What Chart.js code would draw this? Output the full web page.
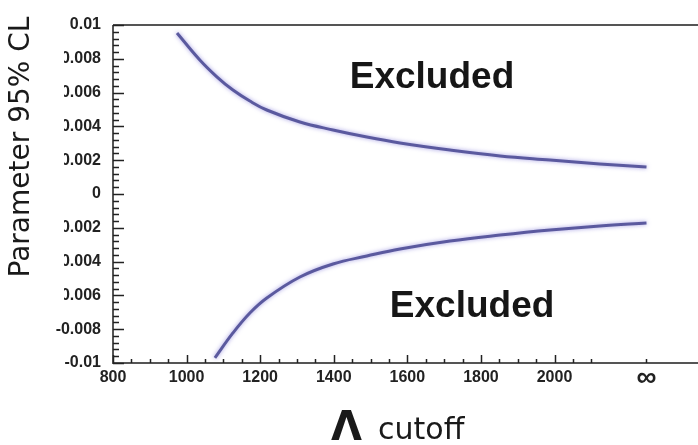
<!DOCTYPE html>
<html>
<head>
<meta charset="utf-8">
<script src="https://cdn.jsdelivr.net/npm/chart.js@4.4.1/dist/chart.umd.min.js"></script>
<style>
  html, body { margin: 0; padding: 0; background: #fff; }
  #wrap { width: 698px; height: 445px; }
</style>
</head>
<body>
<div id="wrap"><canvas id="myChart" width="698" height="445"></canvas></div>
<script>
// upper limit branch
var upperCutoff = [974, 1036, 1083, 1126, 1172, 1218, 1308, 1398, 1490, 1580, 1716, 1852, 1988, 2123, 2250];
var upperLimit = [0.00953, 0.00793, 0.00692, 0.00615, 0.00550, 0.00497, 0.00426, 0.00379, 0.00337, 0.00302, 0.00260, 0.00225, 0.00201, 0.00178, 0.00160];
// lower limit branch
var lowerCutoff = [1077, 1126, 1172, 1218, 1308, 1398, 1490, 1580, 1716, 1852, 1988, 2123, 2250];
var lowerLimit = [-0.00970, -0.00822, -0.00704, -0.00615, -0.00491, -0.00414, -0.00367, -0.00325, -0.00278, -0.00243, -0.00213, -0.00189, -0.00172];

var xTickValues = [800, 1000, 1200, 1400, 1600, 1800, 2000, 2250];
var xTickLabels = ['800', '1000', '1200', '1400', '1600', '1800', '2000', '\u221E'];
var yTickLabels = ['-0.01', '-0.008', '-0.006', '-0.004', '-0.002', '0', '0.002', '0.004', '0.006', '0.008', '0.01'];

var toPoints = function (xs, ys) {
    return xs.map(function (x, i) { return { x: x, y: ys[i] }; });
};

var lineColor = 'rgba(78, 76, 150, 0.9)';

// soft glow on the curves
var glowPlugin = {
    id: 'glow',
    beforeDatasetsDraw: function (chart) {
        chart.ctx.save();
        chart.ctx.shadowColor = 'rgba(110, 100, 210, 0.7)';
        chart.ctx.shadowBlur = 4;
    },
    afterDatasetsDraw: function (chart) {
        chart.ctx.restore();
    }
};

// frame, inner ticks, labels and titles
var framePlugin = {
    id: 'frame',
    afterDraw: function (chart) {
        var ctx = chart.ctx;
        var a = chart.chartArea;
        var xs = chart.scales.x, ys = chart.scales.y;
        ctx.save();
        ctx.strokeStyle = '#555';
        ctx.lineWidth = 2;
        ctx.beginPath();
        ctx.moveTo(a.left, a.top);
        ctx.lineTo(a.right, a.top);
        ctx.moveTo(a.left, a.top);
        ctx.lineTo(a.left, a.bottom);
        ctx.lineTo(a.right, a.bottom);
        ctx.stroke();

        ctx.lineWidth = 1.5;
        ctx.strokeStyle = '#222';
        ctx.beginPath();
        for (var i = -25; i <= 25; i++) {
            var py = Math.round(ys.getPixelForValue(i * 0.0004)) + 0.5;
            var len = (i % 5 === 0) ? 11 : 6;
            ctx.moveTo(a.left, py);
            ctx.lineTo(a.left + len, py);
        }
        for (var k = 800; k <= 2100; k += 50) {
            var px = Math.round(xs.getPixelForValue(k)) + 0.5;
            var l2 = (k % 200 === 0) ? 8 : 4;
            ctx.moveTo(px, a.bottom);
            ctx.lineTo(px, a.bottom - l2);
        }
        var pinf = Math.round(xs.getPixelForValue(xTickValues[xTickValues.length - 1])) + 0.5;
        ctx.moveTo(pinf, a.bottom);
        ctx.lineTo(pinf, a.bottom - 4);
        ctx.stroke();

        // region labels
        ctx.fillStyle = '#161616';
        ctx.font = 'bold 37px "Liberation Sans", Arial, sans-serif';
        ctx.textAlign = 'center';
        ctx.textBaseline = 'middle';
        ctx.fillText('Excluded', xs.getPixelForValue(1667), ys.getPixelForValue(0.0069));
        ctx.fillText('Excluded', xs.getPixelForValue(1776), ys.getPixelForValue(-0.0067));

        // y title on a white box
        ctx.fillStyle = '#fff';
        ctx.fillRect(0, 0, 64, 312);
        ctx.save();
        ctx.translate(22, 147);
        ctx.rotate(-Math.PI / 2);
        ctx.fillStyle = '#1a1a1a';
        ctx.font = '28px "DejaVu Sans", sans-serif';
        ctx.fillText('Parameter 95% CL', 0, 0);
        ctx.restore();

        // x title
        ctx.fillStyle = '#1a1a1a';
        ctx.textAlign = 'left';
        ctx.textBaseline = 'alphabetic';
        ctx.font = 'bold 40px "DejaVu Sans", sans-serif';
        ctx.fillText('\u039B', 331, 440);
        ctx.font = '30px "DejaVu Sans", sans-serif';
        ctx.fillText('cutoff', 378, 439);
        ctx.restore();
    }
};

var tickFont = { family: '"Liberation Sans", Arial, sans-serif', size: 16, weight: 'bold' };
var infFont = { family: '"Liberation Sans", Arial, sans-serif', size: 28, weight: 'bold', lineHeight: 0.75 };

var config = {
    type: 'scatter',
    data: {
        datasets: [{
            label: 'upper',
            data: toPoints(upperCutoff, upperLimit),
            showLine: true,
            borderColor: lineColor,
            borderWidth: 3,
            pointRadius: 0,
            tension: 0.4
        }, {
            label: 'lower',
            data: toPoints(lowerCutoff, lowerLimit),
            showLine: true,
            borderColor: lineColor,
            borderWidth: 3,
            pointRadius: 0,
            tension: 0.4
        }]
    },
    options: {
        responsive: false,
        animation: false,
        layout: { padding: { top: 25, right: 0, left: 0, bottom: 0 } },
        plugins: {
            legend: { display: false },
            tooltip: { enabled: false }
        },
        scales: {
            x: {
                type: 'linear',
                min: 800,
                max: 2390,
                grid: { display: false, drawTicks: false },
                border: { display: false },
                afterFit: function (scale) { scale.height = 82; },
                afterBuildTicks: function (scale) {
                    scale.ticks = xTickValues.map(function (v) { return { value: v }; });
                },
                ticks: {
                    padding: 5,
                    color: '#222',
                    font: function (c) {
                        return (c.tick && c.tick.value === 2250) ? infFont : tickFont;
                    },
                    maxRotation: 0,
                    autoSkip: false,
                    callback: function (value, index) { return xTickLabels[index]; }
                }
            },
            y: {
                min: -0.01,
                max: 0.01,
                grid: { display: false, drawTicks: false },
                border: { display: false },
                afterFit: function (scale) { scale.width = 113; },
                ticks: {
                    stepSize: 0.002,
                    padding: 12,
                    color: '#222',
                    font: tickFont,
                    callback: function (value, index) { return yTickLabels[index]; }
                }
            }
        }
    },
    plugins: [glowPlugin, framePlugin]
};

window.onload = function () {
    var ctx = document.getElementById('myChart').getContext('2d');
    window.myChart = new Chart(ctx, config);
};
</script>
</body>
</html>
